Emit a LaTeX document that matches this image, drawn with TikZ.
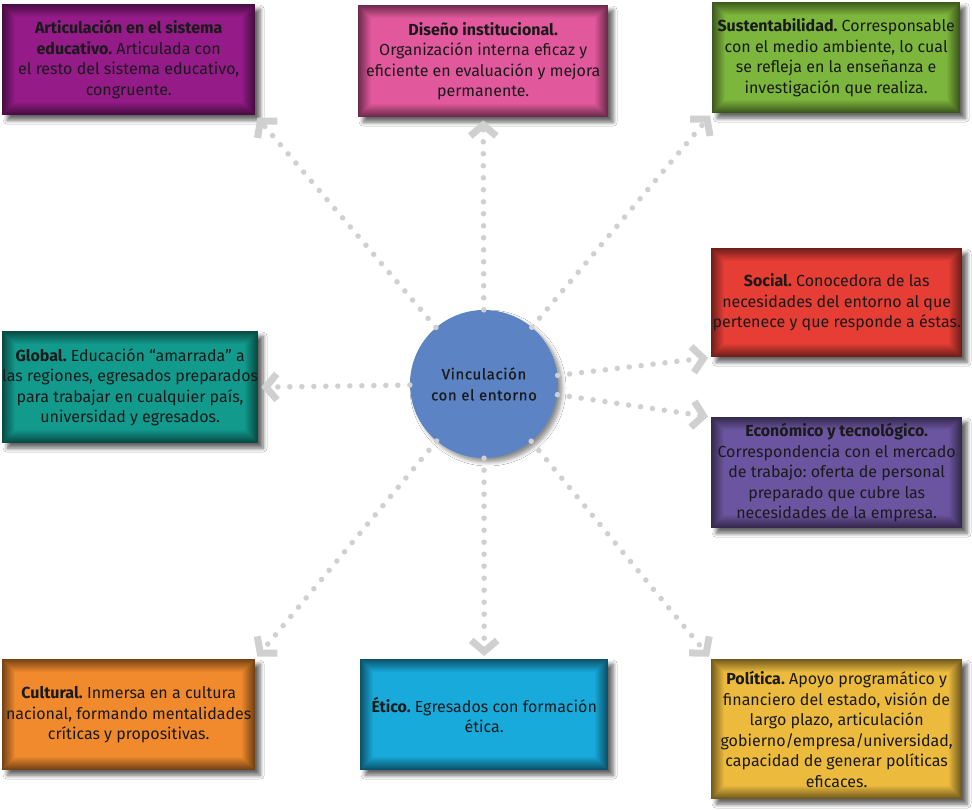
\documentclass[tikz,border=0pt]{standalone}
\usepackage{fontspec}
\setmainfont{Fira Sans}
\usetikzlibrary{arrows.meta,shadows.blur}
\definecolor{cPurple}{HTML}{951B88}
\definecolor{cPink}{HTML}{E2589D}
\definecolor{cGreen}{HTML}{7DB63C}
\definecolor{cRed}{HTML}{E63E35}
\definecolor{cViolet}{HTML}{6C55A0}
\definecolor{cTeal}{HTML}{129A8D}
\definecolor{cOrange}{HTML}{F18A2C}
\definecolor{cCyan}{HTML}{18AADB}
\definecolor{cGold}{HTML}{ECBB3E}
\definecolor{cBlue}{HTML}{5C84C5}
\definecolor{dotgray}{HTML}{D0D0D0}
\definecolor{txt}{HTML}{1A1A1A}
\frenchspacing
\begin{document}
\begin{tikzpicture}[x=1pt,y=-1pt,
  box/.style={rectangle, anchor=north west, inner sep=0pt, align=center,
    font=\fontsize{16}{20.5}\selectfont, text=txt, fill=#1,
    blur shadow={shadow xshift=5pt, shadow yshift=-5pt, shadow blur steps=6,
      shadow opacity=60, shadow blur radius=4pt},
    path picture={
      \foreach \i in {0,...,13}{
        \pgfmathtruncatemacro\mix{48+4*\i}
        \fill[#1!\mix!black] ([xshift=\i pt, yshift=-\i pt]path picture bounding box.north west)
          rectangle ([xshift=-\i pt, yshift=\i pt]path picture bounding box.south east);
      }
    }},
  hub/.style={circle, fill=cBlue, minimum size=148pt, inner sep=0pt, align=center,
    text=txt, font=\fontsize{15}{21}\selectfont\addfontfeature{LetterSpace=4,FakeBold=0.6},
    blur shadow={shadow xshift=4pt, shadow yshift=-4pt, shadow blur steps=6,
      shadow opacity=45, shadow blur radius=4pt}},
  conn/.style={draw=dotgray, line width=5.5pt, line cap=round, dash pattern=on 0pt off 12pt,
    -{Straight Barb[length=11pt,width=26pt,line width=7pt]}, shorten >=3pt}
]
\fill[white] (0,0) rectangle (972,810);
\useasboundingbox (0,0) rectangle (972,810);

\node[box=cPurple, minimum width=253pt, minimum height=111pt] (b1) at (2,4)
  {\textbf{Articulación en el sistema}\\\textbf{educativo.} Articulada con\\el resto del sistema educativo,\\congruente.};
\node[box=cPink, minimum width=250pt, minimum height=112pt] (b2) at (358,5)
  {\textbf{Diseño institucional.}\\Organización interna eficaz y\\eficiente en evaluación y mejora\\permanente.};
\node[box=cGreen, minimum width=248pt, minimum height=111pt] (b3) at (712,2)
  {\textbf{Sustentabilidad.} Corresponsable\\con el medio ambiente, lo cual\\se refleja en la enseñanza e\\investigación que realiza.};
\node[box=cRed, minimum width=251pt, minimum height=109pt] (b4) at (711,248)
  {\textbf{Social.} Conocedora de las\\necesidades del entorno al que\\pertenece y que responde a éstas.};
\node[box=cViolet, minimum width=251pt, minimum height=111pt] (b5) at (711,417)
  {\textbf{Económico y tecnológico.}\\Correspondencia con el mercado\\de trabajo: oferta de personal\\preparado que cubre las\\necesidades de la empresa.};
\node[box=cTeal, minimum width=253pt, minimum height=112pt] (b6) at (2,331)
  {\textbf{Global.} Educación “amarrada” a\\las regiones, egresados preparados\\para trabajar en cualquier país,\\universidad y egresados.};
\node[box=cOrange, minimum width=253pt, minimum height=111pt] (b7) at (2,659)
  {\textbf{Cultural.} Inmersa en a cultura\\nacional, formando mentalidades\\críticas y propositivas.};
\node[box=cCyan, minimum width=248pt, minimum height=111pt] (b8) at (360,659)
  {\textbf{Ético.} Egresados con formación\\ética.};
\node[box=cGold, minimum width=251pt, minimum height=140pt] (b9) at (711,659)
  {\textbf{Política.} Apoyo programático y\\financiero del estado, visión de\\largo plazo, articulación\\gobierno/empresa/universidad,\\capacidad de generar políticas\\eficaces.};

\node[hub] (c) at (484,384) {Vinculación\\con el entorno};

\draw[conn] (c) -- (b1.south east);
\draw[conn] (c) -- (b2.south);
\draw[conn] (c) -- (b3.south west);
\draw[conn] (c) -- (b4.south west);
\draw[conn] (c) -- (b5.north west);
\draw[conn] (c) -- (b6.east);
\draw[conn] (c) -- (b7.north east);
\draw[conn] (c) -- (b8.north);
\draw[conn] (c) -- (b9.north west);
\end{tikzpicture}
\end{document}
